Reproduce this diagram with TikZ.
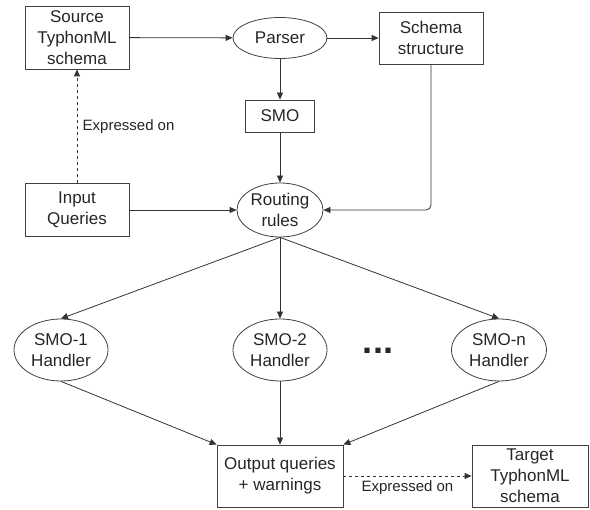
\documentclass[tikz,border=0pt]{standalone}
\usepackage{fontspec}
\setmainfont{Liberation Sans}
\usetikzlibrary{arrows.meta,shapes.geometric}
\begin{document}
\begin{tikzpicture}[x=1pt,y=-1pt,
  every node/.style={font=\fontsize{17}{21}\selectfont, align=center, text=black!85},
  box/.style={draw=black!75, line width=0.8pt, inner sep=0pt},
  oval/.style={draw=black!75, line width=0.8pt, ellipse, inner sep=0pt},
  conn/.style={draw=black!80, line width=0.8pt, -{Triangle[length=7pt,width=6pt]}},
  dconn/.style={conn, dash pattern=on 3pt off 3pt},
  lbl/.style={font=\fontsize{15}{18}\selectfont}]
\useasboundingbox (0,0) rectangle (590,510);
\node[box, minimum width=104pt, minimum height=63pt] (src) at (77,37.5) {Source\\TyphonML\\schema};
\node[oval, minimum width=94pt, minimum height=41pt] (parser) at (280,38) {Parser};
\node[box, minimum width=104pt, minimum height=52pt] (schema) at (431,38) {Schema\\structure};
\node[box, minimum width=69pt, minimum height=32pt] (smo) at (280,116) {SMO};
\node[box, minimum width=104pt, minimum height=53pt] (input) at (77,210) {Input\\Queries};
\node[oval, minimum width=86pt, minimum height=54pt] (routing) at (280,210) {Routing\\rules};
\node[oval, minimum width=94pt, minimum height=62pt] (h1) at (61,350) {SMO-1\\Handler};
\node[oval, minimum width=94pt, minimum height=62pt] (h2) at (280,350) {SMO-2\\Handler};
\node[oval, minimum width=95pt, minimum height=62pt] (hn) at (499,350) {SMO-n\\Handler};
\node (dots) at (378,351) {\fontsize{36}{36}\selectfont\bfseries ...};
\node[box, minimum width=126pt, minimum height=62pt] (out) at (280,476) {Output queries\\+ warnings};
\node[box, minimum width=116pt, minimum height=62pt] (tgt) at (530,476) {Target\\TyphonML\\schema};
\draw[conn] (src) -- (parser);
\draw[conn] (parser) -- (schema);
\draw[conn] (parser) -- (smo);
\draw[conn] (smo) -- (routing);
\draw[conn] (input) -- (routing);
\draw[conn, rounded corners=5pt] (schema.south) |- (routing.east);
\draw[dconn] (input.north) -- node[lbl, right, xshift=2pt] {Expressed on} (src.south);
\draw[conn] (routing.south) -- (h1.north);
\draw[conn] (routing.south) -- (h2.north);
\draw[conn] (routing.south) -- (hn.north);
\draw[conn] (h1.south) -- (out.north west);
\draw[conn] (h2.south) -- (out.north);
\draw[conn] (hn.south) -- (out.north east);
\draw[dconn] (out.east) -- node[lbl, below, yshift=-1pt] {Expressed on} (tgt.west);
\end{tikzpicture}
\end{document}
